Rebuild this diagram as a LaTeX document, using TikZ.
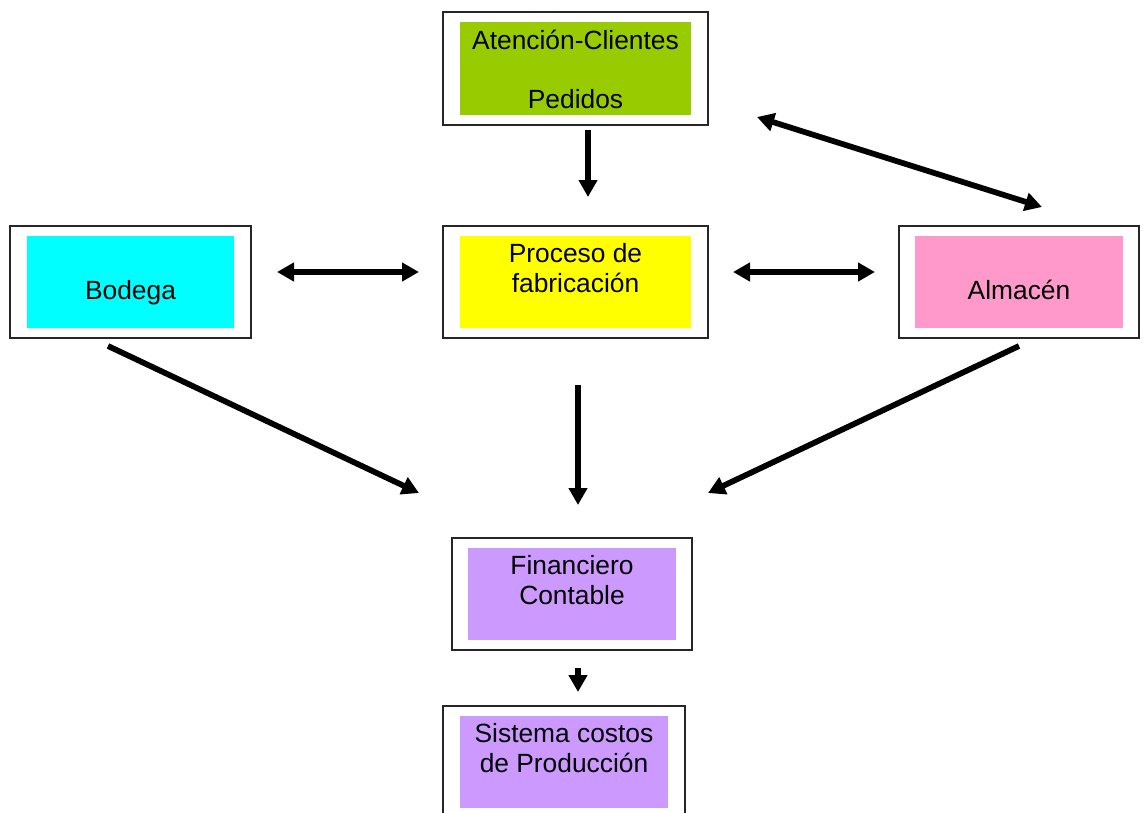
\documentclass[tikz,border=0pt]{standalone}
\usepackage{fontspec}
\setmainfont{Liberation Sans}
\usepackage{tikz}
\usetikzlibrary{arrows.meta,shapes}
\definecolor{verde}{HTML}{99CC00}
\definecolor{celeste}{HTML}{00FFFF}
\definecolor{amarillo}{HTML}{FFFF00}
\definecolor{rosa}{HTML}{FF99CC}
\definecolor{lila}{HTML}{CC99FF}
\tikzstyle{arrow}=[-{Triangle[width=.36cm,length=.34cm]},line width=.115cm,draw=black]
\tikzstyle{darrow}=[{Triangle[width=.36cm,length=.34cm]}-{Triangle[width=.36cm,length=.34cm]},line width=.115cm,draw=black]
\tikzstyle{outer}=[draw=black!85,line width=.04cm,inner sep=0pt,minimum height=2.25cm]
\tikzstyle{inner}=[inner sep=0pt,minimum height=1.85cm]
\tikzstyle{txt}=[anchor=north,inner sep=0pt,align=center,yshift=-.12cm,font=\fontsize{15}{17}\selectfont]

\begin{document}
\begin{tikzpicture}[x=.02cm, y=-.02cm]

	\useasboundingbox (0,0) rectangle (1146,812);

	%boxes
	\node[outer, minimum width=5.3cm] (atencion) at (575.5,68.5) {};
	\node[inner, fill=verde, minimum width=4.62cm] (atencionIn) at (atencion) {};
	\node[txt] at (atencionIn.north) {\strut Atención-Clientes\\ \\Pedidos};

	\node[outer, minimum width=4.82cm] (bodega) at (130.5,282) {};
	\node[inner, fill=celeste, minimum width=4.16cm] (bodegaIn) at (bodega) {};
	\node[txt, yshift=-.14cm] at (bodegaIn.north) {\strut\\Bodega};

	\node[outer, minimum width=5.3cm] (proceso) at (575.5,282) {};
	\node[inner, fill=amarillo, minimum width=4.62cm] (procesoIn) at (proceso) {};
	\node[txt] at (procesoIn.north) {\strut Proceso de\\fabricación};

	\node[outer, minimum width=4.8cm] (almacen) at (1019,282) {};
	\node[inner, fill=rosa, minimum width=4.16cm] (almacenIn) at (almacen) {};
	\node[txt, yshift=-.14cm] at (almacenIn.north) {\strut\\Almacén};

	\node[outer, minimum width=4.8cm] (financiero) at (572,594) {};
	\node[inner, fill=lila, minimum width=4.16cm] (financieroIn) at (financiero) {};
	\node[txt] at (financieroIn.north) {\strut Financiero\\Contable};

	\node[outer, minimum width=4.84cm] (sistema) at (564,762) {};
	\node[inner, fill=lila, minimum width=4.16cm] (sistemaIn) at (sistema) {};
	\node[txt] at (sistemaIn.north) {\strut Sistema costos\\de Producción};

	%arrow ends
	\coordinate (p1) at (588,130);  \coordinate (p2) at (588,197);
	\coordinate (p3) at (757,117);  \coordinate (p4) at (1042,207);
	\coordinate (p5) at (277,272);  \coordinate (p6) at (419,272);
	\coordinate (p7) at (733,272);  \coordinate (p8) at (875,272);
	\coordinate (p9) at (108,346);  \coordinate (p10) at (419,493);
	\coordinate (p11) at (578,385); \coordinate (p12) at (578,505);
	\coordinate (p13) at (1019,346); \coordinate (p14) at (708,493);
	\coordinate (p15) at (578,668); \coordinate (p16) at (578,692);

	%arrows
	\draw[arrow] (p1) -- (p2);
	\draw[darrow] (p3) -- (p4);
	\draw[darrow] (p5) -- (p6);
	\draw[darrow] (p7) -- (p8);
	\draw[arrow] (p9) -- (p10);
	\draw[arrow] (p11) -- (p12);
	\draw[arrow] (p13) -- (p14);
	\draw[arrow] (p15) -- (p16);
\end{tikzpicture}
\end{document}
